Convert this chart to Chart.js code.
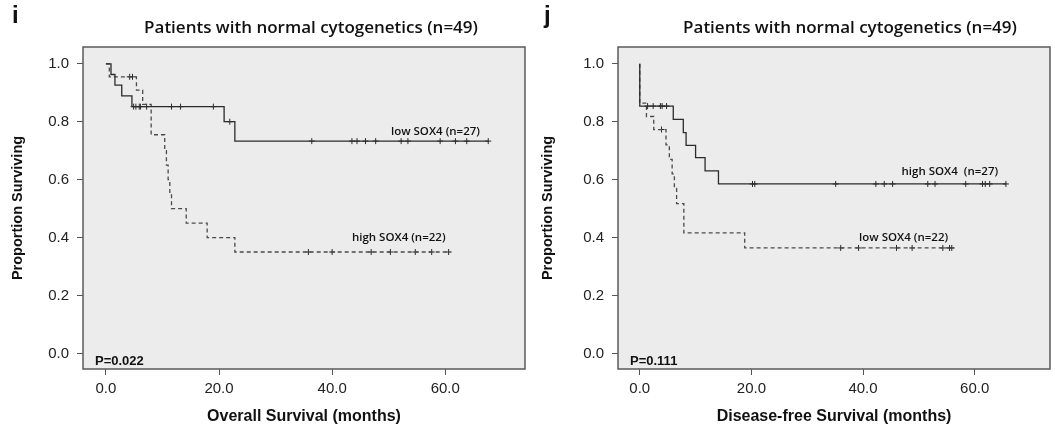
<!DOCTYPE html>
<html>
<head>
<meta charset="utf-8">
<script src="https://cdn.jsdelivr.net/npm/chart.js"></script>
<style>
  body { margin: 0; background: #fff; }
  #wrap { position: relative; width: 1055px; height: 429px; overflow: hidden; }
  canvas { position: absolute; top: 0; }
  #osChart { left: 0; }
  #dfsChart { left: 530px; }
</style>
</head>
<body>
<div id="wrap">
  <canvas id="osChart" width="530" height="429"></canvas>
  <canvas id="dfsChart" width="525" height="429"></canvas>
</div>
<script>
// tick labels shared by both panels
const xTicks = [0, 20, 40, 60];
const yTicks = [0, 0.2, 0.4, 0.6, 0.8, 1.0];

// panel i: overall survival (step times in months, survival after each step)
const osLowTime = [0, 0.9, 1.6, 2.8, 4.6, 20.9, 22.8, 67.7];
const osLowSurv = [1.0, 0.963, 0.926, 0.889, 0.852, 0.800, 0.733, 0.733];
const osLowCensored = [4.9, 5.3, 5.9, 6.1, 7.2, 11.6, 13.2, 19.0, 21.9, 36.4, 43.5, 44.4, 45.9, 47.7, 52.2, 53.4, 59.1, 61.8, 63.8, 67.6];

const osHighTime = [0, 0.6, 5.4, 6.5, 8.0, 10.4, 10.7, 11.0, 11.3, 11.6, 14.2, 17.9, 22.8, 60.9];
const osHighSurv = [1.0, 0.955, 0.909, 0.860, 0.755, 0.70, 0.65, 0.60, 0.55, 0.50, 0.45, 0.40, 0.35, 0.35];
const osHighCensored = [4.2, 4.7, 35.8, 40.0, 46.9, 50.3, 54.7, 57.6, 60.6];

// panel j: disease-free survival
const dfsHighTime = [0, 0, 6.0, 7.8, 8.3, 10.0, 11.7, 14.1, 65.7];
const dfsHighSurv = [1.0, 0.854, 0.808, 0.762, 0.718, 0.676, 0.630, 0.585, 0.585];
const dfsHighCensored = [1.4, 2.4, 3.7, 4.0, 4.8, 20.2, 20.6, 35.1, 42.3, 43.8, 45.3, 51.6, 52.9, 58.4, 61.4, 61.9, 62.7, 65.6];

const dfsLowTime = [0, 0, 1.2, 2.5, 4.7, 5.3, 5.8, 6.2, 6.6, 7.9, 18.8, 56.3];
const dfsLowSurv = [1.0, 0.864, 0.818, 0.773, 0.72, 0.67, 0.62, 0.57, 0.517, 0.416, 0.364, 0.364];
const dfsLowCensored = [3.9, 36.0, 39.2, 46.0, 48.8, 54.3, 55.5, 55.9];

const FONT = '"Liberation Sans", Arial, sans-serif';

// value of the step curve at time t (used to put the censor marks on the line)
function survAt(times, surv, t) {
  let v = surv[0];
  for (let i = 0; i < times.length; i++) {
    if (times[i] <= t) v = surv[i];
  }
  return v;
}

function stepData(times, surv) {
  return times.map((t, i) => ({ x: t, y: surv[i] }));
}

function censorData(times, surv, cens) {
  return cens.map(t => ({ x: t, y: survAt(times, surv, t) }));
}

// background, frame and the text that is not part of the axes
const panelDecor = {
  id: "panelDecor",
  beforeDraw(chart, args, opts) {
    const { ctx, chartArea: a } = chart;
    ctx.save();
    ctx.fillStyle = "#ececec";
    ctx.fillRect(a.left, a.top, a.right - a.left, a.bottom - a.top);
    ctx.restore();
  },
  afterDraw(chart, args, opts) {
    const { ctx, chartArea: a, scales } = chart;
    ctx.save();
    ctx.strokeStyle = "#5a5a5a";
    ctx.lineWidth = 1.5;
    ctx.strokeRect(a.left, a.top, a.right - a.left, a.bottom - a.top);

    ctx.fillStyle = "#111";
    ctx.textBaseline = "middle";
    ctx.font = "bold 24px " + FONT;
    ctx.fillText(opts.letter, opts.letterX, 16);

    ctx.textAlign = "center";
    ctx.font = '600 17px "Open Sans", sans-serif';
    ctx.fillText(opts.title, opts.titleX, 28);

    ctx.textAlign = "left";
    ctx.font = '600 11.5px "Open Sans", sans-serif';
    for (const lab of opts.labels) {
      ctx.fillText(lab.text, scales.x.getPixelForValue(lab.x), scales.y.getPixelForValue(lab.y));
    }

    ctx.font = "bold 13px " + FONT;
    ctx.fillText(opts.pText, a.left + 12, a.bottom - 8);
    ctx.restore();
  }
};

function makeChart(id, cfg) {
  const ctx = document.getElementById(id).getContext("2d");
  return new Chart(ctx, {
    type: "line",
    data: {
      datasets: [
        {
          data: stepData(cfg.solidT, cfg.solidS),
          stepped: "before",
          borderColor: "#2b2b2b",
          borderWidth: 1.3,
          pointRadius: 0,
          fill: false
        },
        {
          data: stepData(cfg.dashT, cfg.dashS),
          stepped: "before",
          borderColor: "#4a4a4a",
          borderWidth: 1.3,
          borderDash: [4, 3],
          pointRadius: 0,
          fill: false
        },
        {
          data: censorData(cfg.solidT, cfg.solidS, cfg.solidC),
          showLine: false,
          pointStyle: "cross",
          pointRadius: 3,
          pointBorderWidth: 1,
          pointBorderColor: "#2b2b2b"
        },
        {
          data: censorData(cfg.dashT, cfg.dashS, cfg.dashC),
          showLine: false,
          pointStyle: "cross",
          pointRadius: 3,
          pointBorderWidth: 1,
          pointBorderColor: "#2b2b2b"
        }
      ]
    },
    options: {
      responsive: false,
      animation: false,
      layout: { padding: { top: 47, right: cfg.padRight, left: 0, bottom: 0 } },
      plugins: {
        legend: { display: false },
        tooltip: { enabled: false },
        panelDecor: cfg.decor
      },
      scales: {
        x: {
          type: "linear",
          min: cfg.xMin,
          max: cfg.xMax,
          afterBuildTicks: s => { s.ticks = xTicks.map(v => ({ value: v })); },
          afterFit: s => { s.height = 60; },
          grid: { drawOnChartArea: false, drawTicks: true, tickLength: 6, color: "#555" },
          border: { display: false },
          ticks: {
            callback: v => v.toFixed(1),
            font: { family: FONT, size: 15 },
            color: "#222",
            padding: 5,
            maxRotation: 0
          },
          title: {
            display: true,
            text: cfg.xTitle,
            font: { family: FONT, size: 16, weight: "bold" },
            color: "#111",
            padding: { top: 0, bottom: 3 }
          }
        },
        y: {
          type: "linear",
          min: -0.054,
          max: 1.058,
          afterBuildTicks: s => { s.ticks = yTicks.map(v => ({ value: v })); },
          afterFit: s => { s.width = cfg.yWidth; },
          grid: { drawOnChartArea: false, drawTicks: true, tickLength: 6, color: "#555" },
          border: { display: false },
          ticks: {
            callback: v => v.toFixed(1),
            font: { family: FONT, size: 15 },
            color: "#222",
            padding: 8
          },
          title: {
            display: true,
            text: "Proportion Surviving",
            font: { family: FONT, size: 14.5, weight: "bold" },
            color: "#111",
            padding: { top: 9, bottom: 0 }
          }
        }
      }
    },
    plugins: [panelDecor]
  });
}

makeChart("osChart", {
  solidT: osLowTime, solidS: osLowSurv, solidC: osLowCensored,
  dashT: osHighTime, dashS: osHighSurv, dashC: osHighCensored,
  xMin: -4.05, xMax: 74.1, yWidth: 83, padRight: 3,
  xTitle: "Overall Survival (months)",
  decor: {
    letter: "i", letterX: 12,
    title: "Patients with normal cytogenetics (n=49)", titleX: 311,
    pText: "P=0.022",
    labels: [
      { text: "low SOX4 (n=27)", x: 50.4, y: 0.765 },
      { text: "high SOX4 (n=22)", x: 43.5, y: 0.399 }
    ]
  }
});

makeChart("dfsChart", {
  solidT: dfsHighTime, solidS: dfsHighSurv, solidC: dfsHighCensored,
  dashT: dfsLowTime, dashS: dfsLowSurv, dashC: dfsLowCensored,
  xMin: -3.9, xMax: 73.5, yWidth: 88, padRight: 0,
  xTitle: "Disease-free Survival (months)",
  decor: {
    letter: "j", letterX: 14,
    title: "Patients with normal cytogenetics (n=49)", titleX: 320,
    pText: "P=0.111",
    labels: [
      { text: "high SOX4  (n=27)", x: 46.9, y: 0.626 },
      { text: "low SOX4 (n=22)", x: 39.3, y: 0.398 }
    ]
  }
});
</script>
</body>
</html>
